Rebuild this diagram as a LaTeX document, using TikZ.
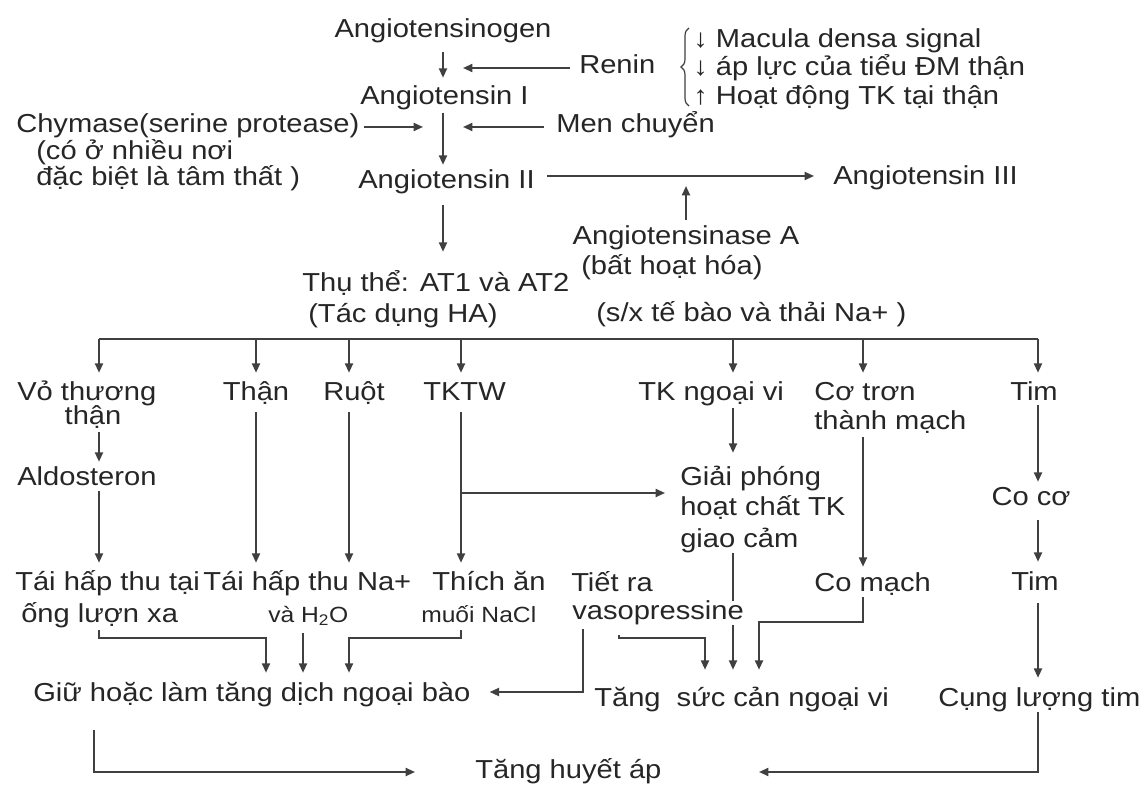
\documentclass[tikz,border=0pt]{standalone}
\usepackage{fontspec}
\setmainfont{Liberation Sans}[FakeStretch=1.12]
\usetikzlibrary{arrows.meta,calc,decorations.pathreplacing}
\pgfdeclarelayer{paper}
\pgfdeclarelayer{wires}
\pgfsetlayers{paper,wires,main}
\begin{document}
\begin{tikzpicture}[x=0.75pt,y=-0.75pt,
  txt/.style={inner sep=0pt, anchor=base west, text height=13.5pt, text depth=4.5pt,
              text=black!85, font=\fontsize{19.5pt}{24pt}\selectfont},
  ctr/.style={txt, anchor=base},
  small/.style={font=\fontsize{16.5pt}{20pt}\selectfont},
  wire/.style={draw=black!75, line width=1.4pt},
  arr/.style={wire, -{Triangle[length=7pt,width=6pt]}}]

\begin{pgfonlayer}{paper}
  \fill[white] (0,0) rectangle (1145,787);
\end{pgfonlayer}
\useasboundingbox (0,0) rectangle (1145,787);

% ---- renin / angiotensin cascade ----
\node[ctr] (ang0) at (443,38) {Angiotensinogen};
\node[txt] (renin) at (579,74) {Renin};
\node[txt] (sig1) at (693,48) {↓ Macula densa signal};
\node[txt] (sig2) at (693,76) {↓ áp lực của tiểu ĐM thận};
\node[txt] (sig3) at (693,105) {↑ Hoạt động TK tại thận};
\draw[draw=black!75, line width=0.9pt, decorate, decoration={brace, amplitude=6pt}]
  (689,106) -- (689,28);
\node[txt] (ang1) at (360,105) {Angiotensin I};
\node[txt] (chym) at (16,133) {Chymase(serine protease)};
\node[txt] (chym2) at (36,160) {(có ở nhiều nơi};
\node[txt] (chym3) at (36,186) {đặc biệt là tâm thất )};
\node[txt] (men) at (556,133) {Men chuyển};
\node[txt] (ang2) at (358,189) {Angiotensin II};
\node[txt] (ang3) at (833,185) {Angiotensin III};
\node[ctr] (angase) at (686,245) {Angiotensinase A};
\node[txt] (angase2) at (581,275) {(bất hoạt hóa)};
\node[txt] (rec) at (302,292) {Thụ thể: AT1 và AT2};
\node[txt] (rec2) at (308,323) {(Tác dụng HA)};
\node[txt] (sx) at (596,322) {(s/x tế bào và thải Na+ )};

% ---- target organs ----
\node[txt] (vo) at (17,401) {Vỏ thương};
\node[ctr] (vo2) at (93,425) {thận};
\node[ctr] (than) at (256,401) {Thận};
\node[txt] (ruot) at (323,401) {Ruột};
\node[txt] (tktw) at (423,401) {TKTW};
\node[txt] (tkng) at (638,401) {TK ngoại vi};
\node[txt] (cotron) at (814,401) {Cơ trơn};
\node[txt] (cotron2) at (814,430) {thành mạch};
\node[ctr] (tim) at (1034,401) {Tim};

\node[txt] (aldo) at (17,485) {Aldosteron};
\node[txt] (giai) at (680,485) {Giải phóng};
\node[txt] (giai2) at (680,515) {hoạt chất TK};
\node[txt] (giai3) at (680,547) {giao cảm};
\node[ctr] (coco) at (1031,505) {Co cơ};

% ---- effects ----
\node[txt] (tai) at (15,590) {Tái hấp thu tại};
\node[txt] (tai2) at (21,622) {ống lượn xa};
\node[txt] (taina) at (203,590) {Tái hấp thu Na+};
\node[txt,small] (taina2) at (268,622) {và H\textsubscript{2}O};
\node[txt] (thich) at (432,590) {Thích ăn};
\node[txt,small] (thich2) at (421,622) {muối NaCl};
\node[txt] (tiet) at (571,591) {Tiết ra};
\node[txt,fill=white] (tiet2) at (572,619) {vasopressine};
\node[txt] (comach) at (814,591) {Co mạch};
\node[ctr] (tim2) at (1035,590) {Tim};

\node[txt] (giu) at (33,701) {Giữ hoặc làm tăng dịch ngoại bào};
\node[txt] (tangsuc) at (594,706) {Tăng\hspace{6pt} sức cản ngoại vi};
\node[txt] (cung) at (938,706) {Cụng lượng tim};
\node[txt] (tha) at (475,778) {Tăng huyết áp};

% ---- columns of the distribution bus and of the lower connectors ----
\coordinate (b1) at (99,339);
\coordinate (b2) at (256,339);
\coordinate (b3) at (349,339);
\coordinate (b4) at (461,339);
\coordinate (b5) at (733,339);
\coordinate (b6) at (863,339);
\coordinate (b7) at (1038,339);
\coordinate (kT) at (266,0);
\coordinate (kH) at (303,0);
\coordinate (kTiet) at (583,0);
\coordinate (kVaso) at (619,0);
\coordinate (kS) at (705,0);
\coordinate (kC) at (759,0);
\coordinate (kL) at (94,0);

\begin{pgfonlayer}{wires}
  % cascade
  \draw[arr] ($(ang0.south)+(0,8)$) -- ($(ang0.south |- ang1.north)+(0,-9)$);
  \draw[arr] ($(renin.west)+(-9,0)$) -- ($(ang0.south |- renin.west)+(20,0)$);
  \draw[arr] ($(ang0.south |- ang1.south)+(0,2)$) -- ($(ang0.south |- ang2.north)+(0,-6)$);
  \draw[arr] ($(chym.east)+(4,0)$) -- ($(ang0.south |- chym.east)+(-20,0)$);
  \draw[arr] ($(men.west)+(-12,0)$) -- ($(ang0.south |- men.west)+(20,0)$);
  \draw[arr] ($(ang2.east |- ang3.west)+(12,-3)$) -- ($(ang3.west)+(-19,-3)$);
  \draw[arr] ($(angase.north)+(0,-7)$) -- ($(angase.north |- ang3.west)+(0,7)$);
  \draw[arr] ($(ang0.south |- ang2.south)+(0,10)$) -- ($(ang0.south |- rec.north)+(0,-22)$);

  % distribution bus
  \draw[wire] (b1) -- (b7);
  \draw[arr] (b1) -- ($(b1 |- vo.north)+(0,-10)$);
  \draw[arr] (b2) -- ($(b2 |- than.north)+(0,-10)$);
  \draw[arr] (b3) -- ($(b3 |- ruot.north)+(0,-10)$);
  \draw[arr] (b4) -- ($(b4 |- tktw.north)+(0,-10)$);
  \draw[arr] (b5) -- ($(b5 |- tkng.north)+(0,-10)$);
  \draw[arr] (b6) -- ($(b6 |- cotron.north)+(0,-10)$);
  \draw[arr] (b7) -- ($(b7 |- tim.north)+(0,-10)$);

  % organs to effects
  \draw[arr] ($(b1 |- vo2.south)+(0,1)$) -- ($(b1 |- aldo.north)+(0,-5)$);
  \draw[arr] (b1 |- aldo.south) -- ($(b1 |- tai.north)+(0,-9)$);
  \draw[arr] ($(b2 |- than.south)+(0,5)$) -- ($(b2 |- taina.north)+(0,-9)$);
  \draw[arr] ($(b3 |- ruot.south)+(0,5)$) -- ($(b3 |- taina.north)+(0,-9)$);
  \draw[arr] ($(b4 |- tktw.south)+(0,5)$) -- ($(b4 |- thich.north)+(0,-9)$);
  \draw[arr] ($(b4 |- giai.west)+(0,14)$) -- ($(giai.west)+(-15,14)$);
  \draw[arr] ($(b5 |- tkng.south)+(0,1)$) -- ($(b5 |- giai.north)+(0,-14)$);
  \draw[arr] ($(b6 |- cotron2.south)+(0,1)$) -- ($(b6 |- comach.north)+(0,-6)$);
  \draw[arr] ($(b7 |- tim.south)+(0,-2)$) -- ($(b7 |- coco.north)+(0,-5)$);
  \draw[arr] ($(b7 |- coco.south)+(0,9)$) -- ($(b7 |- tim2.north)+(0,-10)$);
  \draw[arr] ($(b7 |- tim2.south)+(0,7)$) -- ($(b7 |- cung.north)+(0,-10)$);
  \draw[arr] (b5 |- giai3.south) -- ($(b5 |- tangsuc.north)+(0,-18)$);

  % effects to outcomes
  \draw[arr] ($(b1 |- tai2.south)+(0,2)$) -- ++(0,8) -| ($(kT |- giu.north)+(0,-10)$);
  \draw[arr] ($(kH |- taina2.south)+(0,5)$) -- ($(kH |- giu.north)+(0,-10)$);
  \draw[arr] ($(b4 |- thich2.south)+(0,2)$) -- ++(0,8) -| ($(b3 |- giu.north)+(0,-10)$);
  \draw[arr] ($(kTiet |- tiet2.south)+(0,4)$) |- ($(giu.east)+(19,-3)$);
  \draw[arr] ($(kVaso |- tiet2.south)+(0,10)$) -- ++(0,3) -| ($(kS |- tangsuc.north)+(0,-18)$);
  \draw[arr] (b6 |- comach.south) -- ++(0,25) -| ($(kC |- tangsuc.north)+(0,-18)$);
  \draw[arr] ($(kL |- giu.south)+(0,23)$) |- ($(tha.west)+(-60,0)$);
  \draw[arr] (b7 |- cung.south) |- ($(tha.west)+(284,0)$);
\end{pgfonlayer}
\end{tikzpicture}
\end{document}
